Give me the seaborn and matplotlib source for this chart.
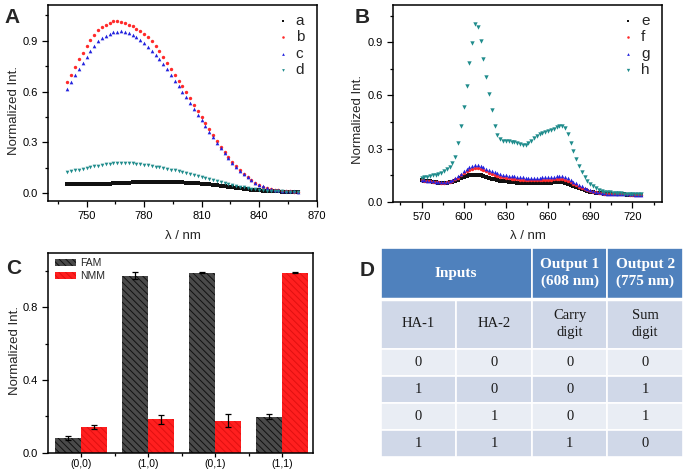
import numpy as np
import pandas as pd
import matplotlib
matplotlib.use("Agg")
import matplotlib.pyplot as plt
from matplotlib.patches import Rectangle, Patch
from matplotlib.ticker import MultipleLocator, FixedLocator, FormatStrFormatter
import seaborn as sns

# ---------------- data ----------------
# panel A, 740-860 nm every 2 nm
wl_a = np.arange(740, 861, 2)
a_vals = [0.057, 0.056, 0.055, 0.054, 0.054, 0.053, 0.053, 0.054, 0.055, 0.056,
          0.057, 0.058, 0.060, 0.061, 0.062, 0.063, 0.064, 0.065, 0.066, 0.067,
          0.067, 0.068, 0.068, 0.068, 0.068, 0.068, 0.067, 0.067, 0.066, 0.066,
          0.065, 0.064, 0.063, 0.062, 0.060, 0.058, 0.056, 0.053, 0.050, 0.047,
          0.044, 0.041, 0.038, 0.035, 0.032, 0.029, 0.026, 0.023, 0.021, 0.019,
          0.017, 0.015, 0.014, 0.013, 0.012, 0.011, 0.010, 0.009, 0.009, 0.008,
          0.008]
b_vals = [0.655, 0.70, 0.745, 0.79, 0.83, 0.87, 0.905, 0.935, 0.96, 0.98,
          0.995, 1.005, 1.013, 1.015, 1.012, 1.005, 0.995, 0.985, 0.97, 0.955,
          0.94, 0.92, 0.895, 0.87, 0.84, 0.805, 0.77, 0.735, 0.70, 0.665,
          0.63, 0.595, 0.56, 0.52, 0.485, 0.45, 0.415, 0.38, 0.345, 0.31,
          0.275, 0.243, 0.213, 0.185, 0.16, 0.135, 0.113, 0.094, 0.077, 0.062,
          0.05, 0.04, 0.032, 0.026, 0.021, 0.017, 0.015, 0.013, 0.011, 0.010,
          0.009]
c_vals = [0.615, 0.655, 0.695, 0.735, 0.77, 0.805, 0.84, 0.87, 0.895, 0.915,
          0.93, 0.94, 0.948, 0.953, 0.955, 0.952, 0.945, 0.935, 0.92, 0.905,
          0.885, 0.865, 0.84, 0.815, 0.79, 0.76, 0.73, 0.70, 0.665, 0.63,
          0.60, 0.565, 0.53, 0.495, 0.46, 0.43, 0.395, 0.36, 0.33, 0.297,
          0.265, 0.235, 0.207, 0.18, 0.157, 0.134, 0.113, 0.094, 0.078, 0.063,
          0.051, 0.041, 0.033, 0.027, 0.022, 0.018, 0.016, 0.014, 0.012, 0.011,
          0.010]
d_vals = [0.127, 0.130, 0.135, 0.140, 0.145, 0.150, 0.155, 0.160, 0.164, 0.168,
          0.171, 0.174, 0.176, 0.177, 0.178, 0.178, 0.177, 0.176, 0.174, 0.172,
          0.169, 0.166, 0.162, 0.158, 0.154, 0.150, 0.145, 0.140, 0.135, 0.130,
          0.125, 0.119, 0.114, 0.108, 0.102, 0.097, 0.091, 0.086, 0.080, 0.074,
          0.068, 0.062, 0.056, 0.050, 0.045, 0.040, 0.035, 0.031, 0.027, 0.024,
          0.021, 0.018, 0.016, 0.014, 0.013, 0.012, 0.011, 0.010, 0.010, 0.009,
          0.009]

# panel B, 570-726 nm every 2 nm
wl_b = np.arange(570, 727, 2)
e_vals = [0.12, 0.118, 0.116, 0.114, 0.112, 0.11, 0.108, 0.107, 0.106, 0.107,
          0.109, 0.113, 0.118, 0.125, 0.132, 0.139, 0.145, 0.149, 0.152, 0.153,
          0.152, 0.149, 0.145, 0.14, 0.135, 0.13, 0.126, 0.122, 0.119, 0.116,
          0.114, 0.112, 0.11, 0.109, 0.108, 0.107, 0.106, 0.105, 0.105, 0.105,
          0.105, 0.105, 0.105, 0.106, 0.106, 0.107, 0.108, 0.109, 0.11, 0.11,
          0.109, 0.106, 0.101, 0.095, 0.089, 0.083, 0.077, 0.071, 0.066, 0.061,
          0.057, 0.054, 0.051, 0.049, 0.047, 0.045, 0.044, 0.043, 0.042, 0.042,
          0.041, 0.041, 0.041, 0.04, 0.04, 0.04, 0.04, 0.04, 0.04]
f_vals = [0.121, 0.119, 0.117, 0.115, 0.113, 0.111, 0.109, 0.108, 0.108, 0.109,
          0.112, 0.118, 0.126, 0.136, 0.148, 0.16, 0.171, 0.18, 0.186, 0.189,
          0.188, 0.184, 0.178, 0.171, 0.164, 0.157, 0.151, 0.146, 0.142, 0.138,
          0.135, 0.132, 0.13, 0.128, 0.126, 0.124, 0.123, 0.122, 0.121, 0.121,
          0.121, 0.121, 0.122, 0.122, 0.123, 0.124, 0.125, 0.127, 0.128, 0.128,
          0.127, 0.123, 0.117, 0.109, 0.1, 0.092, 0.084, 0.077, 0.07, 0.064,
          0.06, 0.056, 0.053, 0.05, 0.048, 0.046, 0.045, 0.044, 0.043, 0.042,
          0.042, 0.041, 0.041, 0.041, 0.04, 0.04, 0.04, 0.04, 0.04]
g_vals = [0.122, 0.12, 0.118, 0.116, 0.114, 0.112, 0.11, 0.109, 0.109, 0.11,
          0.114, 0.121, 0.131, 0.144, 0.158, 0.172, 0.185, 0.195, 0.202, 0.206,
          0.205, 0.201, 0.195, 0.187, 0.179, 0.172, 0.166, 0.161, 0.157, 0.153,
          0.15, 0.147, 0.145, 0.143, 0.141, 0.139, 0.137, 0.136, 0.135, 0.135,
          0.135, 0.135, 0.136, 0.137, 0.138, 0.139, 0.14, 0.142, 0.143, 0.144,
          0.143, 0.139, 0.132, 0.123, 0.113, 0.103, 0.094, 0.086, 0.078, 0.071,
          0.065, 0.06, 0.056, 0.053, 0.05, 0.048, 0.046, 0.045, 0.044, 0.043,
          0.042, 0.042, 0.041, 0.041, 0.041, 0.041, 0.04, 0.04, 0.04]
h_vals = [0.135, 0.138, 0.141, 0.144, 0.148, 0.152, 0.157, 0.163, 0.172, 0.183,
          0.197, 0.22, 0.255, 0.33, 0.43, 0.535, 0.655, 0.78, 0.895, 1.0,
          0.985, 0.905, 0.805, 0.705, 0.61, 0.515, 0.43, 0.375, 0.352, 0.345,
          0.342, 0.34, 0.338, 0.335, 0.332, 0.327, 0.322, 0.322, 0.33, 0.34,
          0.36, 0.372, 0.38, 0.388, 0.393, 0.398, 0.405, 0.413, 0.423, 0.43,
          0.43, 0.418, 0.38, 0.33, 0.285, 0.24, 0.2, 0.168, 0.14, 0.118,
          0.1, 0.086, 0.075, 0.067, 0.061, 0.057, 0.054, 0.052, 0.05, 0.049,
          0.048, 0.047, 0.046, 0.045, 0.045, 0.044, 0.044, 0.043, 0.043]

# panel C
states = ["(0,0)", "(1,0)", "(0,1)", "(1,1)"]
fam = [0.083, 0.975, 0.992, 0.198]
fam_err = [0.011, 0.018, 0.003, 0.013]
nmm = [0.141, 0.184, 0.176, 0.992]
nmm_err = [0.011, 0.024, 0.037, 0.003]

# panel D
head = ["Inputs", "Output 1\n(608 nm)", "Output 2\n(775 nm)"]
sub_head = ["HA-1", "HA-2", "Carry\ndigit", "Sum\ndigit"]
truth = [[0, 0, 0, 0],
         [1, 0, 0, 1],
         [0, 1, 0, 1],
         [1, 1, 1, 0]]

# ---------------- style ----------------
sns.set_style("ticks")
plt.rcParams["font.family"] = ["Liberation Sans", "DejaVu Sans"]
plt.rcParams["hatch.linewidth"] = 0.7

K, R, BL, T = "#111111", "#ff2a2a", "#2222dd", "#1f8c8c"

fig = plt.figure(figsize=(6.85, 4.71), dpi=100)
W, H = 685, 471


def box(l, t, r, b):
    return [l / W, 1 - b / H, (r - l) / W, (b - t) / H]


def style_ax(ax):
    for sp in ax.spines.values():
        sp.set_linewidth(1.1)
        sp.set_color("black")
    ax.tick_params(which="both", direction="out", top=False, right=False,
                   labelsize=8, width=0.9, colors="black")
    ax.tick_params(which="major", length=4)
    ax.tick_params(which="minor", length=2.2)


def spectra(ax, wl, series, xlim, ylim, xmaj, ylab_xy):
    for vals, col, mk, sz, lab in series:
        sns.scatterplot(x=wl, y=vals, ax=ax, color=col, marker=mk, s=sz,
                        linewidth=0, label=lab)
    ax.set_xlim(*xlim)
    ax.set_ylim(*ylim)
    ax.xaxis.set_minor_locator(MultipleLocator(15))
    ax.yaxis.set_major_locator(MultipleLocator(0.3))
    ax.yaxis.set_minor_locator(MultipleLocator(0.15))
    ax.set_xticks(xmaj)
    ax.yaxis.set_major_formatter(FormatStrFormatter("%.1f"))
    style_ax(ax)
    ax.set_xlabel("λ / nm", fontsize=9.5, labelpad=6)
    ax.set_ylabel("Normalized Int.", fontsize=9.5)
    ax.yaxis.set_label_coords(*ylab_xy)
    ax.legend(loc="upper right", bbox_to_anchor=(1.005, 1.025), frameon=False,
              fontsize=11, labelspacing=0.16, handletextpad=0.35,
              handlelength=1.0, markerscale=0.75)


# ---- A
axA = fig.add_axes(box(48.2, 5, 316.7, 201))
spectra(axA, wl_a,
        [(a_vals, K, "s", 5, "a"), (b_vals, R, "o", 6, "b"),
         (c_vals, BL, "^", 7, "c"), (d_vals, T, "v", 7, "d")],
        (730, 870), (-0.045, 1.11), [750, 780, 810, 840, 870], (-0.105, 0.46))

# ---- B
axB = fig.add_axes(box(393.4, 5, 662, 201.7))
spectra(axB, wl_b,
        [(e_vals, K, "s", 5, "e"), (f_vals, R, "o", 6, "f"),
         (g_vals, BL, "^", 7, "g"), (h_vals, T, "v", 10, "h")],
        (550, 741), (0, 1.11), [570, 600, 630, 660, 690, 720], (-0.11, 0.42))

# ---- C
axC = fig.add_axes(box(48.2, 253, 313, 452.7))
bars = pd.DataFrame({
    "state": states * 2,
    "val": fam + nmm,
    "dye": ["FAM"] * 4 + ["NMM"] * 4,
})
sns.barplot(data=bars, x="state", y="val", hue="dye", ax=axC, width=0.775,
            palette={"FAM": "#4a4a4a", "NMM": "#ff1f1f"}, errorbar=None,
            saturation=1, legend=False)
errs = fam_err + nmm_err
hatch_col = {"FAM": "#111111", "NMM": "#e01010"}
for p, dye, v, e in zip(axC.patches, bars["dye"], bars["val"], errs):
    p.set_hatch("\\\\\\\\\\")
    p.set_edgecolor(hatch_col[dye])
    p.set_linewidth(0)
    axC.errorbar(p.get_x() + p.get_width() / 2, v, yerr=e, fmt="none",
                 ecolor="black", elinewidth=0.9, capsize=2, capthick=0.9)
axC.set_xlim(-0.49, 3.455)
axC.set_ylim(0, 1.10)
axC.yaxis.set_major_locator(MultipleLocator(0.4))
axC.yaxis.set_minor_locator(MultipleLocator(0.2))
axC.yaxis.set_major_formatter(FormatStrFormatter("%.1f"))
axC.xaxis.set_minor_locator(FixedLocator([0.5, 1.5, 2.5]))
style_ax(axC)
axC.tick_params(axis="x", which="major", length=3, pad=1.5, labelsize=7.5)
axC.tick_params(axis="x", which="minor", length=2)
axC.set_xlabel("")
axC.set_ylabel("Normalized Int.", fontsize=9.5)
axC.yaxis.set_label_coords(-0.103, 0.51)
handles = [Patch(facecolor="#4a4a4a", edgecolor="#111111", hatch="\\\\\\\\\\", linewidth=0, label="FAM"),
           Patch(facecolor="#ff1f1f", edgecolor="#e01010", hatch="\\\\\\\\\\", linewidth=0, label="NMM")]
axC.legend(handles=handles, loc="upper left", bbox_to_anchor=(0.0, 1.01), frameon=False,
           fontsize=7.5, handlelength=2.0, handleheight=0.7, labelspacing=0.25,
           handletextpad=0.4, borderaxespad=0.3)

# ---- D table
row_h = [51, 50, 27, 27, 27, 27]
axD = fig.add_axes(box(380.7, 247.7, 683, 457))
axD.set_xlim(0, 4)
axD.set_ylim(sum(row_h), 0)
axD.axis("off")
serif = ["Liberation Serif", "DejaVu Serif"]
c_head, c_dark, c_light = "#4f81bd", "#d0d8e8", "#e9edf4"
tops = np.cumsum([0] + row_h[:-1])

head_spans = [(0, 2), (2, 1), (3, 1)]
for txt, (x0, span) in zip(head, head_spans):
    axD.add_patch(Rectangle((x0, tops[0]), span, row_h[0], facecolor=c_head,
                            edgecolor="white", linewidth=1.2))
    axD.text(x0 + span / 2, tops[0] + row_h[0] / 2, txt, ha="center", va="center",
             color="white", fontsize=11, fontweight="bold", family=serif,
             linespacing=1.35)

body = [sub_head] + [[str(v) for v in r] for r in truth]
for i, row in enumerate(body):
    r = i + 1
    fc = c_dark if r % 2 == 1 else c_light
    for j, txt in enumerate(row):
        axD.add_patch(Rectangle((j, tops[r]), 1, row_h[r], facecolor=fc,
                                edgecolor="white", linewidth=1.2))
        axD.text(j + 0.5, tops[r] + row_h[r] / 2, txt, ha="center", va="center",
                 color="#1a1a1a", fontsize=10.5, family=serif, linespacing=1.45)
axD.axhline(row_h[0], color="white", linewidth=2.5)

# ---- panel letters
for lab, x, y in [("A", 12.5, 17.5), ("B", 362.5, 17.5), ("C", 13.5, 269), ("D", 366.7, 270)]:
    fig.text(x / W, 1 - y / H, lab, ha="center", va="center", fontsize=15,
             fontweight="bold")

fig.savefig("out.png", dpi=100)
